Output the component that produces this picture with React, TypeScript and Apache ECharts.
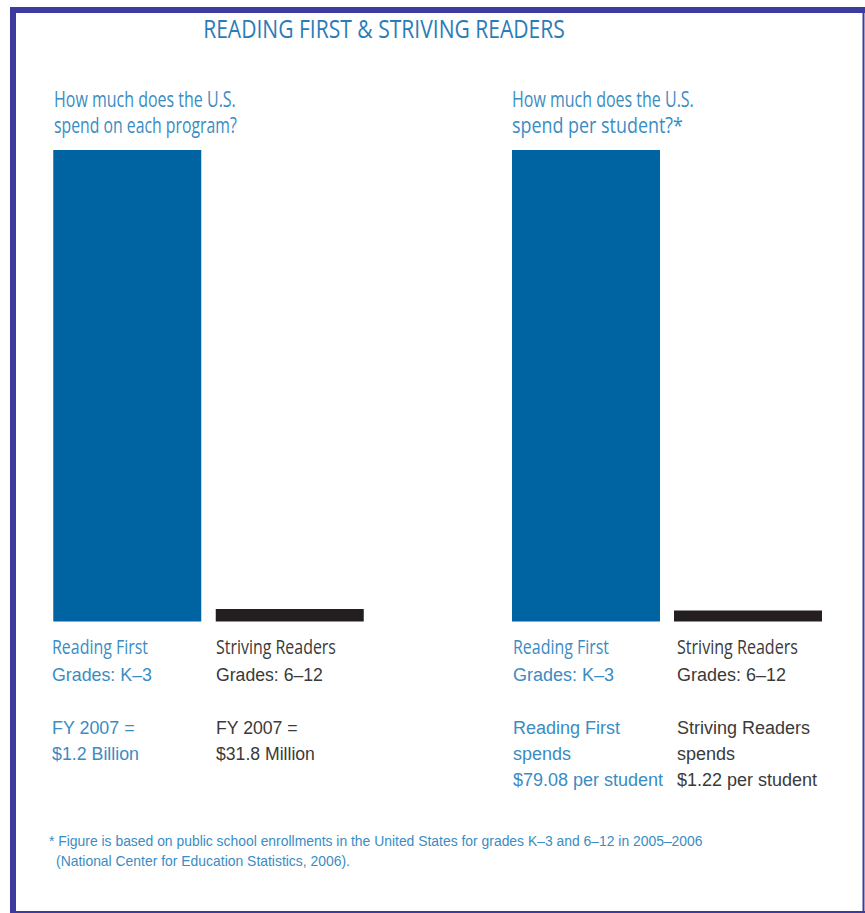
import React, { useEffect, useRef } from "react";
import * as echarts from "echarts";

// ---- Data ----
const programCategories = ["Reading First", "Striving Readers"];
const programSpendBillions = [1.2, 0.0318]; // FY 2007
const perStudentDollars = [79.08, 1.22];

const titleText = "READING FIRST & STRIVING READERS";
const leftQuestion = ["How much does the U.S.", "spend on each program?"];
const rightQuestion = ["How much does the U.S.", "spend per student?*"];
const gradeLabels = ["Grades: K\u20133", "Grades: 6\u201312"];
const leftAmountLabels = [
  ["FY 2007 =", "$1.2 Billion"],
  ["FY 2007 =", "$31.8 Million"],
];
const rightAmountLabels = [
  ["Reading First", "spends", "$79.08 per student"],
  ["Striving Readers", "spends", "$1.22 per student"],
];
const footnoteLines = [
  "* Figure is based on public school enrollments in the United States for grades K\u20133 and 6\u201312 in 2005\u20132006",
  "(National Center for Education Statistics, 2006).",
];

// ---- Styles ----
const BLUE_BAR = "#0064a2";
const BLACK_BAR = "#231f20";
const TITLE_BLUE = "#2a7cb6";
const TEXT_BLUE = "#3a8cc3";
const TEXT_GRAY = "#3a3a3a";
const FRAME = "#3b3c9e";
const HUMANIST = "'Open Sans'";
const GROTESK = "'Liberation Sans'";

let measureCtx: CanvasRenderingContext2D | null = null;
function measure(text: string, size: number, family: string) {
  if (!measureCtx) measureCtx = document.createElement("canvas").getContext("2d");
  if (!measureCtx) return 0;
  measureCtx.font = `${size}px ${family}`;
  return measureCtx.measureText(text).width;
}

function txt(
  text: string,
  x: number,
  baseline: number,
  size: number,
  family: string,
  color: string,
  targetWidth: number,
  align: "left" | "center" = "left"
) {
  const w = measure(text, size, family);
  const sx = w > 0 ? targetWidth / w : 1;
  const k = family === HUMANIST ? 0.39 : 0.35;
  return {
    type: "text",
    x,
    y: baseline - size * k,
    scaleX: sx,
    silent: true,
    style: {
      text,
      fontSize: size,
      fontFamily: family,
      fill: color,
      textAlign: align,
      textVerticalAlign: "middle",
      align,
      verticalAlign: "middle",
    },
  };
}

export default function App() {
  const ref = useRef<HTMLDivElement>(null);

  useEffect(() => {
    if (!ref.current) return;
    const chart = echarts.init(ref.current, null, { renderer: "svg" });

    const L1 = 52;
    const L2 = 216;
    const R1 = 513;
    const R2 = 677;

    const graphics: any[] = [
      // frame
      { type: "rect", shape: { x: 10, y: 7, width: 6, height: 906 }, style: { fill: FRAME }, silent: true },
      { type: "rect", shape: { x: 10, y: 7, width: 855, height: 6 }, style: { fill: FRAME }, silent: true },
      { type: "rect", shape: { x: 862.5, y: 7, width: 2, height: 906 }, style: { fill: FRAME }, silent: true },
      { type: "rect", shape: { x: 10, y: 911, width: 855, height: 2 }, style: { fill: FRAME }, silent: true },
      // title
      txt(titleText, 384, 38, 25, HUMANIST, TITLE_BLUE, 362, "center"),
      // questions
      txt(leftQuestion[0], 54, 107, 21, HUMANIST, TEXT_BLUE, 182),
      txt(leftQuestion[1], 54, 133, 21, HUMANIST, TEXT_BLUE, 183),
      txt(rightQuestion[0], 512, 107, 21, HUMANIST, TEXT_BLUE, 182),
      txt(rightQuestion[1], 512, 133, 21, HUMANIST, TEXT_BLUE, 171),
      // left panel labels
      txt(programCategories[0], L1, 654, 20, HUMANIST, TEXT_BLUE, 96),
      txt(gradeLabels[0], L1, 681, 19, GROTESK, TEXT_BLUE, 100),
      txt(leftAmountLabels[0][0], L1, 734, 19, GROTESK, TEXT_BLUE, 83),
      txt(leftAmountLabels[0][1], L1, 760, 19, GROTESK, TEXT_BLUE, 87),
      txt(programCategories[1], L2, 654, 20, HUMANIST, TEXT_GRAY, 120),
      txt(gradeLabels[1], L2, 681, 19, GROTESK, TEXT_GRAY, 107),
      txt(leftAmountLabels[1][0], L2, 734, 19, GROTESK, TEXT_GRAY, 82),
      txt(leftAmountLabels[1][1], L2, 760, 19, GROTESK, TEXT_GRAY, 99),
      // right panel labels
      txt(programCategories[0], R1, 654, 20, HUMANIST, TEXT_BLUE, 96),
      txt(gradeLabels[0], R1, 681, 19, GROTESK, TEXT_BLUE, 101),
      txt(rightAmountLabels[0][0], R1, 734, 19, GROTESK, TEXT_BLUE, 107),
      txt(rightAmountLabels[0][1], R1, 760, 19, GROTESK, TEXT_BLUE, 58),
      txt(rightAmountLabels[0][2], R1, 786, 19, GROTESK, TEXT_BLUE, 150),
      txt(programCategories[1], R2, 654, 20, HUMANIST, TEXT_GRAY, 121),
      txt(gradeLabels[1], R2, 681, 19, GROTESK, TEXT_GRAY, 109),
      txt(rightAmountLabels[1][0], R2, 734, 19, GROTESK, TEXT_GRAY, 133),
      txt(rightAmountLabels[1][1], R2, 760, 19, GROTESK, TEXT_GRAY, 58),
      txt(rightAmountLabels[1][2], R2, 786, 19, GROTESK, TEXT_GRAY, 140),
      // footnote
      txt(footnoteLines[0], 49, 846, 15, GROTESK, TEXT_BLUE, 654),
      txt(footnoteLines[1], 56, 866, 15, GROTESK, TEXT_BLUE, 294),
    ];

    const colors = [BLUE_BAR, BLACK_BAR];

    chart.setOption({
      animation: false,
      backgroundColor: "#ffffff",
      grid: [
        { left: 46, width: 325, top: 150, height: 471.5 },
        { left: 505, width: 324, top: 150, height: 471.5 },
      ],
      xAxis: [
        { type: "category", gridIndex: 0, data: programCategories, show: false },
        { type: "category", gridIndex: 1, data: programCategories, show: false },
      ],
      yAxis: [
        { type: "value", gridIndex: 0, min: 0, max: Math.max(...programSpendBillions), show: false },
        { type: "value", gridIndex: 1, min: 0, max: Math.max(...perStudentDollars), show: false },
      ],
      series: [
        {
          type: "bar",
          xAxisIndex: 0,
          yAxisIndex: 0,
          barWidth: 148,
          data: programSpendBillions.map((v, i) => ({ value: v, itemStyle: { color: colors[i] } })),
        },
        {
          type: "bar",
          xAxisIndex: 1,
          yAxisIndex: 1,
          barWidth: 148,
          barMinHeight: 11,
          data: perStudentDollars.map((v, i) => ({ value: v, itemStyle: { color: colors[i] } })),
        },
      ],
      graphic: graphics,
    });

    return () => chart.dispose();
  }, []);

  return (
    <div
      ref={ref}
      style={{ position: "absolute", left: 0, top: 0, width: 865, height: 913 }}
    />
  );
}
